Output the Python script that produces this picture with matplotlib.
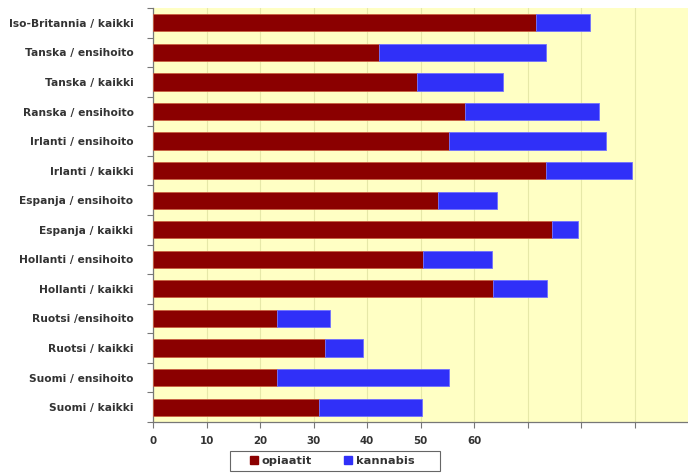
import matplotlib
matplotlib.use("Agg")
import matplotlib.pyplot as plt
import numpy as np
from matplotlib.patches import Patch, Rectangle

categories = [
    "Iso-Britannia / kaikki", "Tanska / ensihoito", "Tanska / kaikki",
    "Ranska / ensihoito", "Irlanti / ensihoito", "Irlanti / kaikki",
    "Espanja / ensihoito", "Espanja / kaikki", "Hollanti / ensihoito",
    "Hollanti / kaikki", "Ruotsi /ensihoito", "Ruotsi / kaikki",
    "Suomi / ensihoito", "Suomi / kaikki",
]
opiaatit = [71.5, 42.2, 49.4, 58.4, 55.4, 73.5, 53.2, 74.6, 50.4, 63.6, 23.1, 32.1, 23.1, 31.1]
kannabis = [10.2, 31.2, 16.0, 25.0, 29.2, 16.0, 11.1, 4.8, 13.0, 10.0, 10.0, 7.2, 32.2, 19.2]
xticks = [0, 10, 20, 30, 40, 50, 60, 70, 80, 90]
xticklabels = ["0", "10", "20", "30", "40", "50", "60", "", "", ""]

red = "#8B0000"
blue = "#3030F8"
bg = "#FFFFC4"
txt = "#333333"

fig = plt.figure(figsize=(6.88, 4.74), dpi=100)
ax = fig.add_axes([0.2224, 0.110, 0.7776, 0.873])
ax.set_facecolor(bg)

y = np.arange(len(categories))
h = 0.58
ax.barh(y, opiaatit, height=h, color=red, edgecolor="#C86040", linewidth=0.6, zorder=3)
ax.barh(y, kannabis, left=opiaatit, height=h, color=blue, edgecolor="#7070FF", linewidth=0.6, zorder=3)

ax.set_xlim(0, 100)
ax.set_ylim(len(categories) - 0.5, -0.5)
ax.set_xticks(xticks)
ax.set_xticklabels(xticklabels, fontsize=7.4, fontweight="bold")
ax.set_yticks(y)
ax.set_yticklabels(categories, fontsize=7.7, fontweight="bold", color=txt)
ax.tick_params(axis="y", length=0, pad=14)
ax.set_yticks(np.arange(len(categories) + 1) - 0.5, minor=True)
ax.tick_params(axis="y", which="minor", length=4, color="#777777", width=0.8)
ax.tick_params(axis="x", length=4, color="#777777", width=0.8, pad=6, labelcolor=txt)

ax.grid(axis="x", color="#E6E8A8", linewidth=0.8, zorder=0)
ax.set_axisbelow(True)
for s in ["top", "right"]:
    ax.spines[s].set_visible(False)
for s in ["left", "bottom"]:
    ax.spines[s].set_color("#777777")
    ax.spines[s].set_linewidth(0.9)

# legend frame
fig.patches.append(Rectangle((230/688, 1 - 471/474), 210/688, 20/474,
                             transform=fig.transFigure, facecolor="white",
                             edgecolor="#666666", linewidth=0.8, zorder=1))
handles = [Patch(facecolor=red, edgecolor=red, label="opiaatit"),
           Patch(facecolor=blue, edgecolor=blue, label="kannabis")]
leg = fig.legend(handles=handles, loc="center", bbox_to_anchor=(332/688, 1 - 461/474),
                 ncol=2, fontsize=8.2, frameon=False,
                 handlelength=0.7, handleheight=0.7, handletextpad=0.35, borderpad=0.0,
                 columnspacing=2.8, borderaxespad=0)
leg.set_zorder(2)
for t in leg.get_texts():
    t.set_fontweight("bold")
    t.set_color(txt)
fig.savefig("out.png", dpi=100)
